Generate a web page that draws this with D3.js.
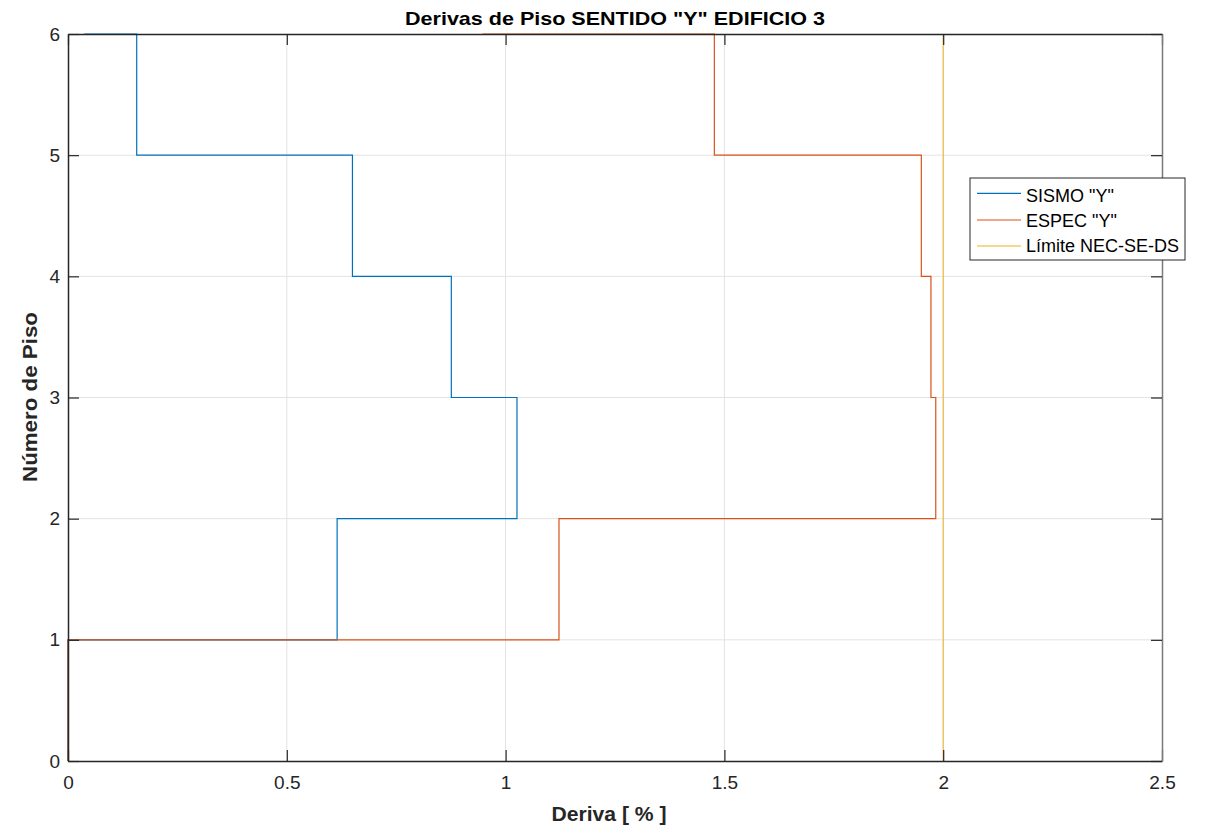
<!DOCTYPE html>
<html>
<head>
<meta charset="utf-8">
<script src="https://cdn.jsdelivr.net/npm/d3@7"></script>
<style>
  body { margin: 0; background: #fff; }
  text { font-family: "Liberation Sans", Arial, Helvetica, sans-serif; }
</style>
</head>
<body>
<svg id="chart" width="1206" height="830"></svg>
<script>
// Story drift per floor (percent)
const floors = [1, 2, 3, 4, 5, 6];
const sismoY = [0.615, 1.026, 0.876, 0.650, 0.157, 0.037];
const especY = [1.122, 1.983, 1.972, 1.950, 1.477, 0.947];
const limitDrift = 2.0;
const xTicks = [0, 0.5, 1, 1.5, 2, 2.5];
const yTicks = [0, 1, 2, 3, 4, 5, 6];
const seriesNames = ['SISMO "Y"', 'ESPEC "Y"', 'Límite NEC-SE-DS'];
const seriesColors = ['#0072BD', '#D95319', '#EDB120'];

const svg = d3.select('#chart');
const m = { left: 68, right: 1162, top: 34, bottom: 761 };

const x = d3.scaleLinear().domain([0, 2.5]).range([m.left, m.right]);
const y = d3.scaleLinear().domain([0, 6]).range([m.bottom, m.top]);

// grid
const grid = svg.append('g');
grid.selectAll('line.gx').data(xTicks.slice(1, -1)).join('line')
  .attr('x1', d => x(d)).attr('x2', d => x(d))
  .attr('y1', m.top).attr('y2', m.bottom)
  .attr('stroke', '#e3e3e3').attr('stroke-width', 1);
grid.selectAll('line.gy').data(yTicks.slice(1, -1)).join('line')
  .attr('y1', d => y(d)).attr('y2', d => y(d))
  .attr('x1', m.left).attr('x2', m.right)
  .attr('stroke', '#e3e3e3').attr('stroke-width', 1);

// stair path: from ground up to first floor, then across/up floor by floor
function stairPoints(drifts) {
  const pts = [[0, 0], [0, floors[0]]];
  drifts.forEach((d, i) => {
    pts.push([d, floors[i]]);
    if (i < drifts.length - 1) pts.push([d, floors[i + 1]]);
  });
  return pts;
}
const line = d3.line().x(p => x(p[0])).y(p => y(p[1]));

const plot = svg.append('g');
plot.append('path').attr('d', line(stairPoints(sismoY)))
  .attr('fill', 'none').attr('stroke', seriesColors[0]).attr('stroke-width', 1.2);
plot.append('path').attr('d', line(stairPoints(especY)))
  .attr('fill', 'none').attr('stroke', seriesColors[1]).attr('stroke-width', 1.2);
plot.append('path').attr('d', line([[limitDrift, 0], [limitDrift, 6]]))
  .attr('fill', 'none').attr('stroke', seriesColors[2]).attr('stroke-width', 1);

// axes
const axisColor = '#262626';
const xAxis = svg.append('g').attr('transform', `translate(0,${m.bottom})`)
  .call(d3.axisBottom(x).tickValues(xTicks).tickFormat(d3.format('')).tickSizeInner(-11).tickSizeOuter(0).tickPadding(15));
const yAxis = svg.append('g').attr('transform', `translate(${m.left},0)`)
  .call(d3.axisLeft(y).tickValues(yTicks).tickFormat(d3.format('')).tickSizeInner(-11).tickSizeOuter(0).tickPadding(8));
const xTop = svg.append('g').attr('transform', `translate(0,${m.top})`)
  .call(d3.axisTop(x).tickValues(xTicks).tickFormat('').tickSizeInner(-11).tickSizeOuter(0));
const yRight = svg.append('g').attr('transform', `translate(${m.right},0)`)
  .call(d3.axisRight(y).tickValues(yTicks).tickFormat('').tickSizeInner(-11).tickSizeOuter(0));

[xAxis, yAxis, xTop, yRight].forEach(g => {
  g.selectAll('.domain').attr('stroke', axisColor).attr('stroke-width', 1.5);
  g.selectAll('.tick line').attr('stroke', axisColor).attr('stroke-width', 1.2);
  g.selectAll('.tick text').attr('fill', axisColor).style('font-size', '19px')
    .style('font-family', '"Liberation Sans", Arial, sans-serif');
});
yRight.select('.domain').attr('stroke', '#7a7a7a');

// titles
svg.append('text').attr('x', 615).attr('y', 25).attr('text-anchor', 'middle')
  .style('font-size', '19px').style('font-weight', 'bold').attr('fill', '#000')
  .attr('textLength', 420).attr('lengthAdjust', 'spacingAndGlyphs')
  .text('Derivas de Piso SENTIDO "Y" EDIFICIO 3');
svg.append('text').attr('x', 609).attr('y', 821).attr('text-anchor', 'middle')
  .style('font-size', '19.5px').style('font-weight', 'bold').attr('fill', axisColor)
  .attr('textLength', 115).attr('lengthAdjust', 'spacingAndGlyphs')
  .text('Deriva [ % ]');
svg.append('text').attr('transform', 'translate(37,397) rotate(-90)').attr('text-anchor', 'middle')
  .style('font-size', '19.5px').style('font-weight', 'bold').attr('fill', axisColor)
  .attr('textLength', 170).attr('lengthAdjust', 'spacingAndGlyphs')
  .text('Número de Piso');

// legend
const legendBaselines = [23.7, 49.3, 73.7];
const legendLineY = [15.3, 42, 68];
const lg = svg.append('g').attr('transform', 'translate(970,178)');
lg.append('rect').attr('width', 215).attr('height', 82)
  .attr('fill', '#fff').attr('stroke', '#262626').attr('stroke-width', 1);
seriesNames.forEach((name, i) => {
  lg.append('line').attr('x1', 7).attr('x2', 51).attr('y1', legendLineY[i]).attr('y2', legendLineY[i])
    .attr('stroke', seriesColors[i]).attr('stroke-width', 1.2);
  lg.append('text').attr('x', 56).attr('y', legendBaselines[i])
    .style('font-size', '18px').attr('fill', '#000').text(name);
});
</script>
</body>
</html>
